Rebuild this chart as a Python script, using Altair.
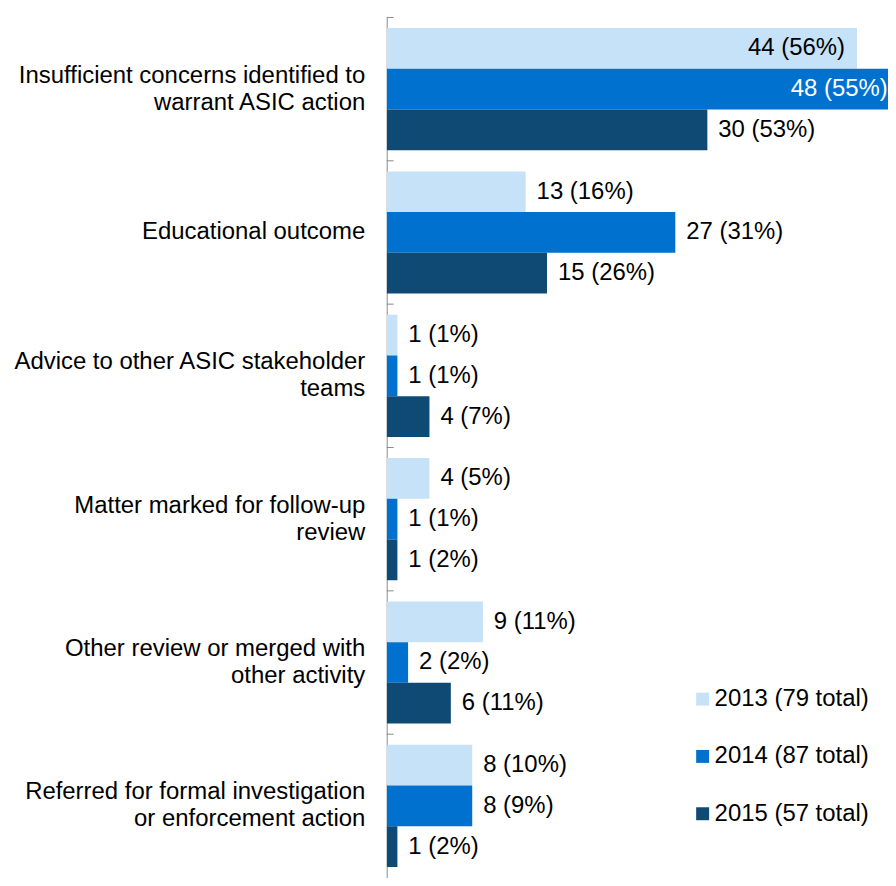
import altair as alt
import pandas as pd

categories = [
    "Insufficient concerns identified to\nwarrant ASIC action",
    "Educational outcome",
    "Advice to other ASIC stakeholder\nteams",
    "Matter marked for follow-up\nreview",
    "Other review or merged with\nother activity",
    "Referred for formal investigation\nor enforcement action",
]
series = ["2013 (79 total)", "2014 (87 total)", "2015 (57 total)"]
colors = ["#C5E2F8", "#0071CE", "#0E4A74"]

v2013 = [44, 13, 1, 4, 9, 8]
p2013 = [56, 16, 1, 5, 11, 10]
v2014 = [48, 27, 1, 1, 2, 8]
p2014 = [55, 31, 1, 1, 2, 9]
v2015 = [30, 15, 4, 1, 6, 1]
p2015 = [53, 26, 7, 2, 11, 2]

rows = []
for s, vals, pcts in zip(series, [v2013, v2014, v2015], [p2013, p2014, p2015]):
    for c, v, p in zip(categories, vals, pcts):
        rows.append({"cat": c, "series": s, "value": v, "label": f"{v} ({p}%)"})
df = pd.DataFrame(rows)
cat_df = pd.DataFrame({"cat": categories})

FONT = "Liberation Sans"
FS = 24
LH = 27

y_enc = alt.Y(
    "cat:N",
    sort=categories,
    title=None,
    scale=alt.Scale(paddingInner=0, paddingOuter=0),
    axis=alt.Axis(
        labelExpr="split(datum.label, '\\n')",
        labelFont=FONT,
        labelFontSize=FS,
        labelLineHeight=LH,
        labelColor="black",
        labelPadding=22,
        labelLimit=500,
        labelOffset={
            "condition": {"test": "indexof(datum.value, '\\n') >= 0", "value": -LH / 2},
            "value": 0,
        },
        ticks=False,
        domainColor="#8C8C8C",
        domainWidth=1,
    ),
)
yoff_enc = alt.YOffset(
    "series:N", sort=series, scale=alt.Scale(paddingInner=0, paddingOuter=0.26)
)
x_enc = alt.X("value:Q", scale=alt.Scale(domain=[0, 46.9], nice=False), axis=None)

base = alt.Chart(df)

bars = base.mark_bar(clip=True).encode(
    y=y_enc,
    yOffset=yoff_enc,
    x=x_enc,
    color=alt.Color(
        "series:N",
        sort=series,
        scale=alt.Scale(domain=series, range=colors),
        legend=alt.Legend(
            title=None,
            orient="none",
            legendX=305,
            legendY=672,
            labelFont=FONT,
            labelFontSize=FS,
            labelColor="black",
            symbolType="square",
            symbolSize=169,
            symbolStrokeWidth=0,
            rowPadding=33.5,
            labelOffset=0,
            padding=0,
        ),
    ),
)

outside = base.transform_filter(alt.datum.value <= 40).mark_text(
    align="left", baseline="middle", dx=11, font=FONT, fontSize=FS, color="black"
).encode(y=alt.Y("cat:N", sort=categories), yOffset=yoff_enc, x=x_enc, text="label:N")

inside = base.transform_filter(alt.datum.value > 40).mark_text(
    align="right", baseline="middle", dx=-12, font=FONT, fontSize=FS
).encode(
    y=alt.Y("cat:N", sort=categories),
    yOffset=yoff_enc,
    x=x_enc,
    text="label:N",
    color=alt.condition(
        alt.datum.series == series[1], alt.value("white"), alt.value("black")
    ),
)

ticks = alt.Chart(cat_df).mark_rule(color="#8C8C8C", strokeWidth=1).encode(
    y=alt.Y("cat:N", sort=categories, bandPosition=0),
    x=alt.value(0),
    x2=alt.value(7),
)

chart = (
    alt.layer(bars, outside, inside, ticks)
    .properties(
        width=503,
        height=863,
        padding={"left": 4, "top": 7, "right": 0, "bottom": 0},
    )
    .configure_view(stroke=None)
)

chart.save("out.html", embed_options={"renderer": "svg", "actions": False})
